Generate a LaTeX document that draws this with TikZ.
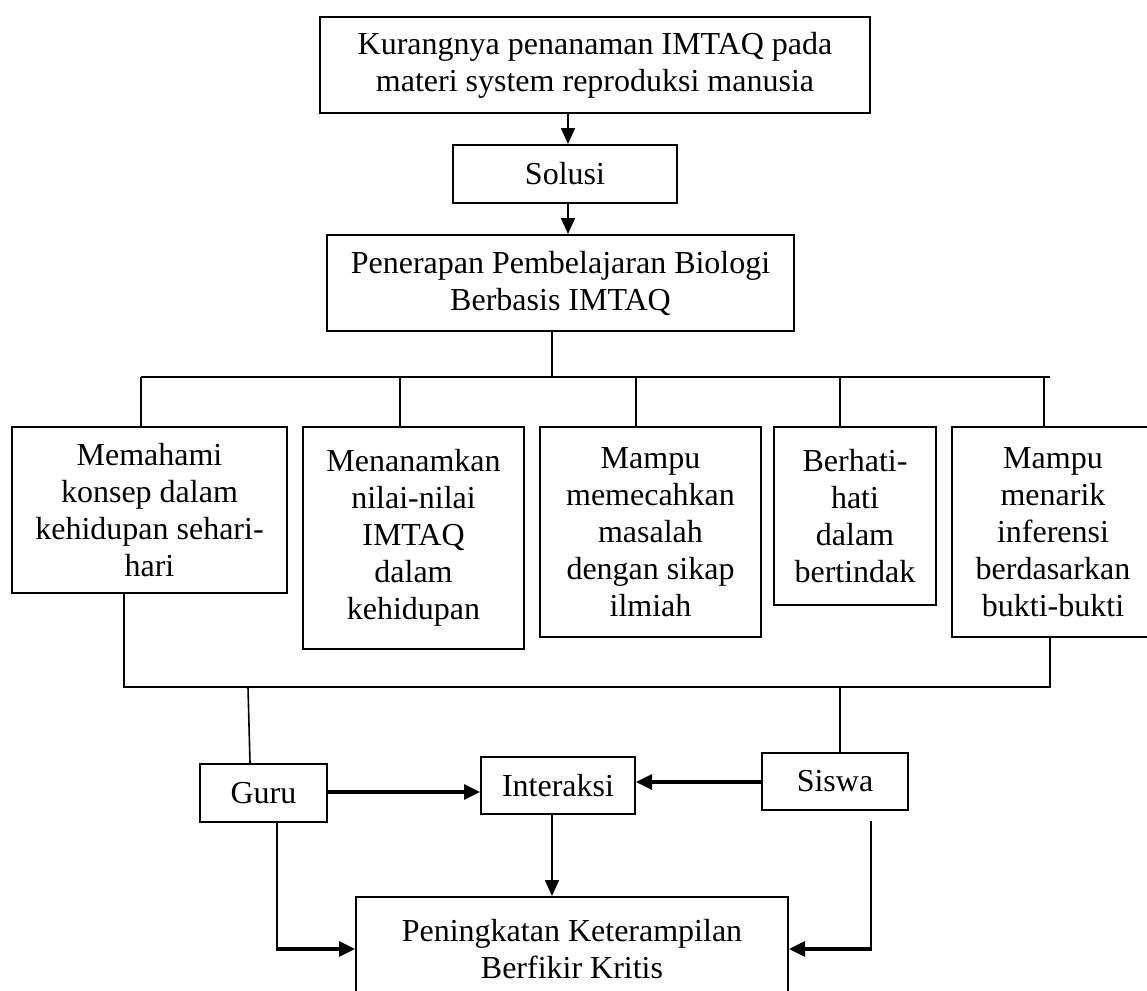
\documentclass[tikz,border=0pt]{standalone}
\usepackage{fontspec}
\setmainfont{Liberation Serif}
\usetikzlibrary{arrows.meta}
\begin{document}
\begin{tikzpicture}[x=1pt,y=-1pt,
  box/.style={draw,line width=2pt,inner sep=0pt,align=center,
    font=\fontsize{32}{37}\selectfont},
  ln/.style={line width=1.6pt},
  arr/.style={line width=1.6pt,-{Triangle[length=16pt,width=14pt]}},
  tarr/.style={line width=3.2pt,-{Triangle[length=16pt,width=15pt]}}]
\useasboundingbox (0,0) rectangle (1147,990);
% top chain
\node[box,minimum width=550pt,minimum height=96pt] (top) at (595,65)
  {Kurangnya penanaman IMTAQ pada\\materi system reproduksi manusia};
\node[box,minimum width=224pt,minimum height=58pt] (sol) at (565,174) {Solusi};
\node[box,minimum width=467pt,minimum height=96pt] (pen) at (560.5,283)
  {Penerapan Pembelajaran Biologi\\Berbasis IMTAQ};
% five boxes
\node[box,minimum width=275pt,minimum height=166pt] (b1) at (149.5,510)
  {Memahami\\konsep dalam\\kehidupan sehari-\\hari};
\node[box,minimum width=221pt,minimum height=222pt] (b2) at (413.5,538)
  {Menanamkan\\nilai-nilai\\IMTAQ\\dalam\\kehidupan};
\node[box,minimum width=221pt,minimum height=210pt] (b3) at (650.5,532)
  {Mampu\\memecahkan\\masalah\\dengan sikap\\ilmiah};
\node[box,minimum width=162pt,minimum height=178pt] (b4) at (855,516)
  {Berhati-\\hati\\dalam\\bertindak};
\node[box,minimum width=202pt,minimum height=210pt] (b5) at (1053,532)
  {Mampu\\menarik\\inferensi\\berdasarkan\\bukti-bukti};
% lower
\node[box,minimum width=127pt,minimum height=58pt] (guru) at (263.5,793) {Guru};
\node[box,minimum width=154pt,minimum height=57pt] (inter) at (558,785.5) {Interaksi};
\node[box,minimum width=146pt,minimum height=57pt] (siswa) at (835,781.5) {Siswa};
\node[box,minimum width=432pt,minimum height=104pt] (hasil) at (572,949)
  {Peningkatan Keterampilan\\Berfikir Kritis};
% bus coordinates
\coordinate (busAL) at (141,377);
\coordinate (busAR) at (1050,377);
\coordinate (busBL) at (124,687);
\coordinate (busBR) at (1050,687);
\coordinate (tapG) at (248,687);
\coordinate (tapS) at (840,687);
% connectors
\draw[arr] (top.south -| 568,0) -- (sol.north -| 568,0);
\draw[arr] (sol.south -| 568,0) -- (pen.north -| 568,0);
\draw[ln] (pen.south -| 552,0) -- (busAL -| 552,0);
\draw[ln] (busAL) -- (busAR);
\draw[ln] (b1.north -| busAL) -- (busAL);
\draw[ln] (b2.north -| 400,0) -- (busAL -| 400,0);
\draw[ln] (b3.north -| 636,0) -- (busAL -| 636,0);
\draw[ln] (b4.north -| 840,0) -- (busAL -| 840,0);
\draw[ln] (b5.north -| 1044,0) -- (busAL -| 1044,0);
\draw[ln] (b1.south -| busBL) -- (busBL) -- (busBR) -- (b5.south -| busBR);
\draw[ln] (tapG) -- (guru.north -| 250,0);
\draw[ln] (tapS) -- (siswa.north -| tapS);
\draw[tarr] (guru.east |- 0,792) -- (inter.west |- 0,792);
\draw[tarr] (siswa.west |- 0,782) -- (inter.east |- 0,782);
\draw[arr] (inter.south -| 552,0) -- (hasil.north -| 552,0);
\coordinate (gd) at (277,949);
\coordinate (sd) at (871,949);
\draw[ln] (guru.south -| gd) -- (gd);
\draw[tarr] ([xshift=-0.8pt]gd) -- (hasil.west);
\draw[ln] (sd |- 0,821) -- (sd);
\draw[tarr] ([xshift=0.8pt]sd) -- (hasil.east);
\end{tikzpicture}
\end{document}
